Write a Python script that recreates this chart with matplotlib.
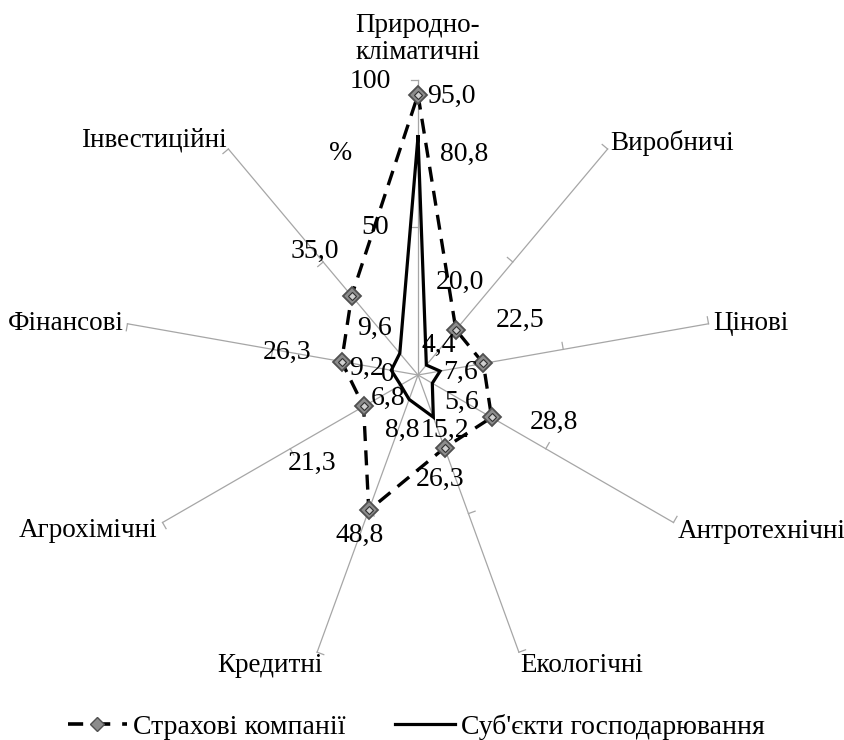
import numpy as np
import matplotlib
matplotlib.use("Agg")
import matplotlib.pyplot as plt
from matplotlib.lines import Line2D

plt.rcParams['font.family'] = ['Liberation Serif', 'DejaVu Serif']

categories = ['Природно-\nкліматичні', 'Виробничі', 'Цінові', 'Антротехнічні',
              'Екологічні', 'Кредитні', 'Агрохімічні', 'Фінансові', 'Інвестиційні']
insurers = [95.0, 20.0, 22.5, 28.8, 26.3, 48.8, 21.3, 26.3, 35.0]
businesses = [80.8, 4.4, 7.6, 5.6, 15.2, 8.8, 6.8, 9.2, 9.6]
series_names = ['Страхові компанії', "Суб'єкти господарювання"]
r_ticks = [0, 50, 100]

# label offsets (pixels)
off_ins = [(33, -2), (4, 47), (37, 43), (62, -5), (-4, -32), (-9, -25), (-52, -57), (-55, 9), (-37, 44)]
off_bus = [(46, -18), (12, 20), (20, -1), (29, -19), (12, -13), (-7, -31), (-13, -13), (-25, 2), (-25, 25)]
cat_off = [((0, 41), 'center'), ((3, 6), 'left'), ((5, 0), 'left'), ((4, -9), 'left'),
           ((1, -13), 'left'), ((6, -13), 'right'), ((-5, -8), 'right'), ((-4, 0), 'right'),
           ((-2, 9), 'right')]

W, H = 845, 740
fig = plt.figure(figsize=(W / 100, H / 100), dpi=100)
cx, cy, R = 418, 375, 295
ax = fig.add_axes([(cx - R) / W, (H - cy - R) / H, 2 * R / W, 2 * R / H], projection='polar')
ax.set_theta_zero_location('N')
ax.set_theta_direction(-1)
ax.set_ylim(0, 100)
ax.grid(False)
ax.set_xticks([])
ax.set_yticks([])
ax.spines['polar'].set_visible(False)
ax.patch.set_visible(False)

n = len(categories)
theta = np.arange(n) * 2 * np.pi / n

FS_DATA = 20
FS_CAT = 19.5
axis_col = '#a6a6a6'
tick_len = 2.4
for t in theta:
    ax.plot([t, t], [0, 100], color=axis_col, lw=0.9, zorder=1, clip_on=False)
    for rv in r_ticks[1:]:
        r2 = np.hypot(rv, tick_len)
        t2 = t - np.arctan2(tick_len, rv)
        ax.plot([t, t2], [rv, r2], color=axis_col, lw=0.9, zorder=1, clip_on=False)

tc = np.append(theta, theta[0])
ins_c = np.append(insurers, insurers[0])
bus_c = np.append(businesses, businesses[0])

l_bus, = ax.plot(tc, bus_c, color='black', lw=2.3, zorder=3, clip_on=False,
                 solid_joinstyle='miter', label=series_names[1])
l_ins, = ax.plot(tc, ins_c, color='black', lw=2.4, linestyle=(0, (4.5, 2.8)), zorder=4,
                 clip_on=False, label=series_names[0])
ax.plot(theta, insurers, linestyle='none', marker='D', markersize=9.5,
        markerfacecolor='#8c8c8c', markeredgecolor='#505050', markeredgewidth=1.3,
        zorder=5, clip_on=False)
ax.plot(theta, insurers, linestyle='none', marker='D', markersize=4.5,
        markerfacecolor='#d0d0d0', markeredgecolor='#303030', markeredgewidth=0.8,
        zorder=6, clip_on=False)

for t, v, o in zip(theta, insurers, off_ins):
    ax.annotate(f'{v:.1f}'.replace('.', ','), xy=(t, v), xytext=o, textcoords='offset pixels',
                ha='center', va='center', fontsize=FS_DATA, zorder=7, annotation_clip=False)
for t, v, o in zip(theta, businesses, off_bus):
    ax.annotate(f'{v:.1f}'.replace('.', ','), xy=(t, v), xytext=o, textcoords='offset pixels',
                ha='center', va='center', fontsize=FS_DATA, zorder=7, annotation_clip=False)

for t, lab, (o, ha) in zip(theta, categories, cat_off):
    ax.annotate(lab, xy=(t, 100), xytext=o, textcoords='offset pixels', ha=ha, va='center',
                fontsize=FS_CAT, linespacing=1.15, annotation_clip=False, multialignment='center')

# radial axis labels
r_off = {0: (-30, 0), 50: (-43, 0), 100: (-48, -2)}
for rv in r_ticks:
    ax.annotate(str(rv), xy=(0, rv), xytext=r_off[rv], textcoords='offset pixels',
                ha='center', va='center', fontsize=FS_DATA, annotation_clip=False)
ax.annotate('%', xy=(0, 100), xytext=(-77, -73), textcoords='offset pixels',
            ha='center', va='center', fontsize=FS_DATA, annotation_clip=False)

h_ins = Line2D([], [], color='black', lw=2.6, linestyle=(0, (4.2, 3.3)), marker='D',
               markersize=7, markerfacecolor='#8c8c8c', markeredgecolor='#505050')
h_bus = Line2D([], [], color='black', lw=2.3)
fig.legend([h_ins, h_bus], series_names, loc='center', bbox_to_anchor=(416 / W, 1 - 727 / H),
           ncol=2, frameon=False, fontsize=20, handlelength=2.15, handletextpad=0.2,
           columnspacing=1.8, borderpad=0)

fig.savefig('out.png', dpi=100)
